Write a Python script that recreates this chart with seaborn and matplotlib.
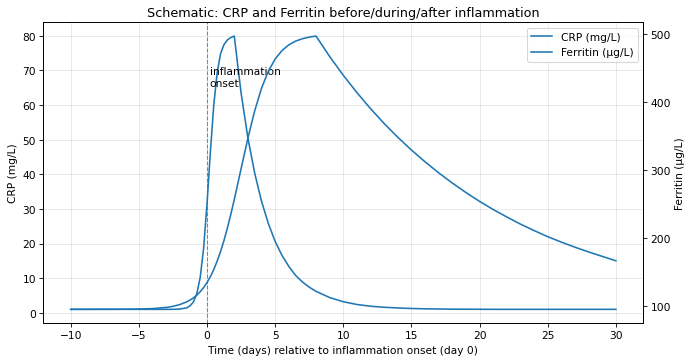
import matplotlib
matplotlib.use("Agg")
import matplotlib.pyplot as plt
from matplotlib.ticker import MultipleLocator
import pandas as pd
import seaborn as sns

# days relative to inflammation onset
days = [-10, -8, -6, -5, -4, -3, -2.5, -2, -1.5, -1.25, -1, -0.75, -0.5, -0.25,
        0, 0.25, 0.5, 0.75, 1, 1.25, 1.5, 1.75, 2, 2.5, 3, 3.5, 4, 4.5, 5, 5.5,
        6, 6.5, 7, 7.5, 8, 9, 10, 11, 12, 13, 14, 15, 16, 17, 18, 19,
        20, 21, 22, 23, 24, 25, 26, 27, 28, 29, 30]

crp = [1.0, 1.0, 1.0, 1.0, 1.0, 1.0, 1.0, 1.1, 1.4, 2.0, 3.1, 5.5, 10.2, 18.6,
       31.4, 46.6, 60.2, 69.5, 74.9, 77.5, 78.8, 79.5, 79.9, 63.5, 50.5, 40.3, 32.2, 25.8, 20.6, 16.6,
       13.4, 10.8, 8.9, 7.4, 6.2, 4.4, 3.2, 2.4, 1.9, 1.6, 1.4, 1.25, 1.15, 1.1, 1.05, 1.03,
       1.02, 1.0, 1.0, 1.0, 1.0, 1.0, 1.0, 1.0, 1.0, 1.0, 1.0]

ferritin = [95.0, 95.1, 95.2, 95.5, 96.1, 97.8, 99.4, 102.0, 105.9, 108.6, 111.8, 115.9, 120.9, 127.0,
            134.4, 143.2, 153.7, 166.3, 180.5, 196.7, 215.1, 235.2, 256.6, 302.0, 347.0, 387.4, 420.6, 445.7, 463.6, 476.0,
            484.5, 490.0, 493.5, 495.9, 497.4, 467.3, 439.7, 414.2, 390.5, 368.6, 348.4, 329.6, 312.2, 296.0, 281.0, 267.0,
            254.0, 242.0, 231.0, 220.5, 211.0, 202.0, 194.0, 186.5, 179.5, 173.0, 166.5]

df = pd.DataFrame({"day": days, "crp": crp, "ferritin": ferritin})

line_colour = "#1f77b4"

fig, ax1 = plt.subplots(figsize=(9, 4.72), dpi=76.67)
fig.subplots_adjust(left=0.063, right=0.932, top=0.9356, bottom=0.105)

sns.lineplot(data=df, x="day", y="crp", ax=ax1, color=line_colour, label="CRP (mg/L)", linewidth=1.5)
ax1.axvline(0, color=line_colour, linestyle="--", linewidth=1, alpha=0.75)
ax1.text(0.2, max(crp) * 0.82, "inflammation\nonset", fontsize=10)
ax1.set_xlabel("Time (days) relative to inflammation onset (day 0)")
ax1.set_ylabel("CRP (mg/L)")
ax1.grid(alpha=0.3)

ax2 = ax1.twinx()
sns.lineplot(data=df, x="day", y="ferritin", ax=ax2, color=line_colour, label="Ferritin (\u00b5g/L)", linewidth=1.5)
ax2.set_ylabel("Ferritin (\u00b5g/L)")
ax2.yaxis.set_major_locator(MultipleLocator(100))

# one legend for both axes
h1, l1 = ax1.get_legend_handles_labels()
h2, l2 = ax2.get_legend_handles_labels()
ax1.get_legend().remove()
ax2.get_legend().remove()
ax2.legend(h1 + h2, l1 + l2, loc="upper right")

ax1.set_title("Schematic: CRP and Ferritin before/during/after inflammation")

fig.savefig("out.png", dpi=76.67)
